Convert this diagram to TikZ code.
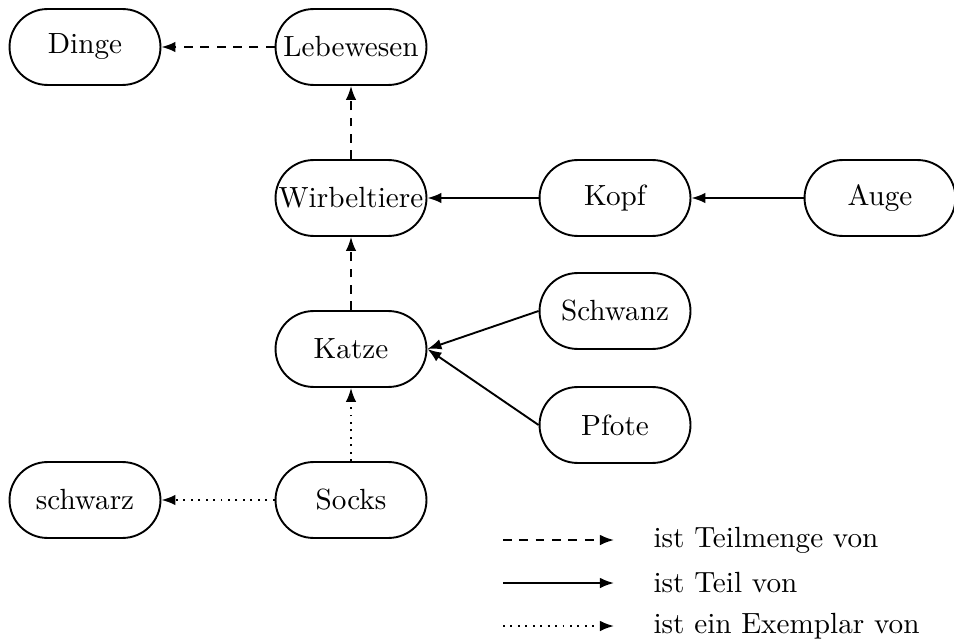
\documentclass[tikz,border=0pt]{standalone}
\usetikzlibrary{arrows.meta}
\begin{document}
\begin{tikzpicture}[x=0.3425pt, y=-0.3425pt,
  concept/.style={draw, line width=0.65pt, rectangle, rounded corners=13pt,
    minimum width=51.7pt, minimum height=26pt, inner sep=0.5pt},
  rel/.style={line width=0.65pt, -{Latex[length=4.8pt,width=3.6pt]}},
  subset/.style={rel, dash pattern=on 3pt off 2.6pt},
  partof/.style={rel},
  instance/.style={rel, dash pattern=on 0.65pt off 1.9pt},
  legtext/.style={anchor=west, inner sep=0pt}]
  \useasboundingbox (0,0) rectangle (954,641);

  % concepts
  \node[concept] (dinge)   at (85,47)   {Dinge};
  \node[concept] (leb)     at (351,47)  {Lebewesen};
  \node[concept] (wirb)    at (351,198) {Wirbeltiere};
  \node[concept] (kopf)    at (615,198) {Kopf};
  \node[concept] (auge)    at (880,198) {Auge};
  \node[concept] (katze)   at (351,349) {Katze};
  \node[concept] (schwanz) at (615,311) {Schwanz};
  \node[concept] (pfote)   at (615,425) {Pfote};
  \node[concept] (socks)   at (351,500) {Socks};
  \node[concept] (schwarz) at (85,500)  {schwarz};

  % relations
  \draw[subset] (leb) -- (dinge);
  \draw[subset] (wirb) -- (leb);
  \draw[subset] (katze) -- (wirb);
  \draw[partof] (kopf) -- (wirb);
  \draw[partof] (auge) -- (kopf);
  \draw[partof] (schwanz.west) -- (katze.east);
  \draw[partof] (pfote.west) -- (katze.east);
  \draw[instance] (socks) -- (katze);
  \draw[instance] (socks) -- (schwarz);

  % legend
  \coordinate (la1) at (503,540); \coordinate (lb1) at (614,540);
  \coordinate (la2) at (503,583); \coordinate (lb2) at (614,583);
  \coordinate (la3) at (503,626); \coordinate (lb3) at (614,626);
  \draw[subset] (la1) -- (lb1);
  \draw[partof] (la2) -- (lb2);
  \draw[instance] (la3) -- (lb3);
  \node[legtext] (t1) at (653,540) {ist Teilmenge von};
  \node[legtext] (t2) at (653,583) {ist Teil von};
  \node[legtext] (t3) at (653,626) {ist ein Exemplar von};
\end{tikzpicture}
\end{document}
